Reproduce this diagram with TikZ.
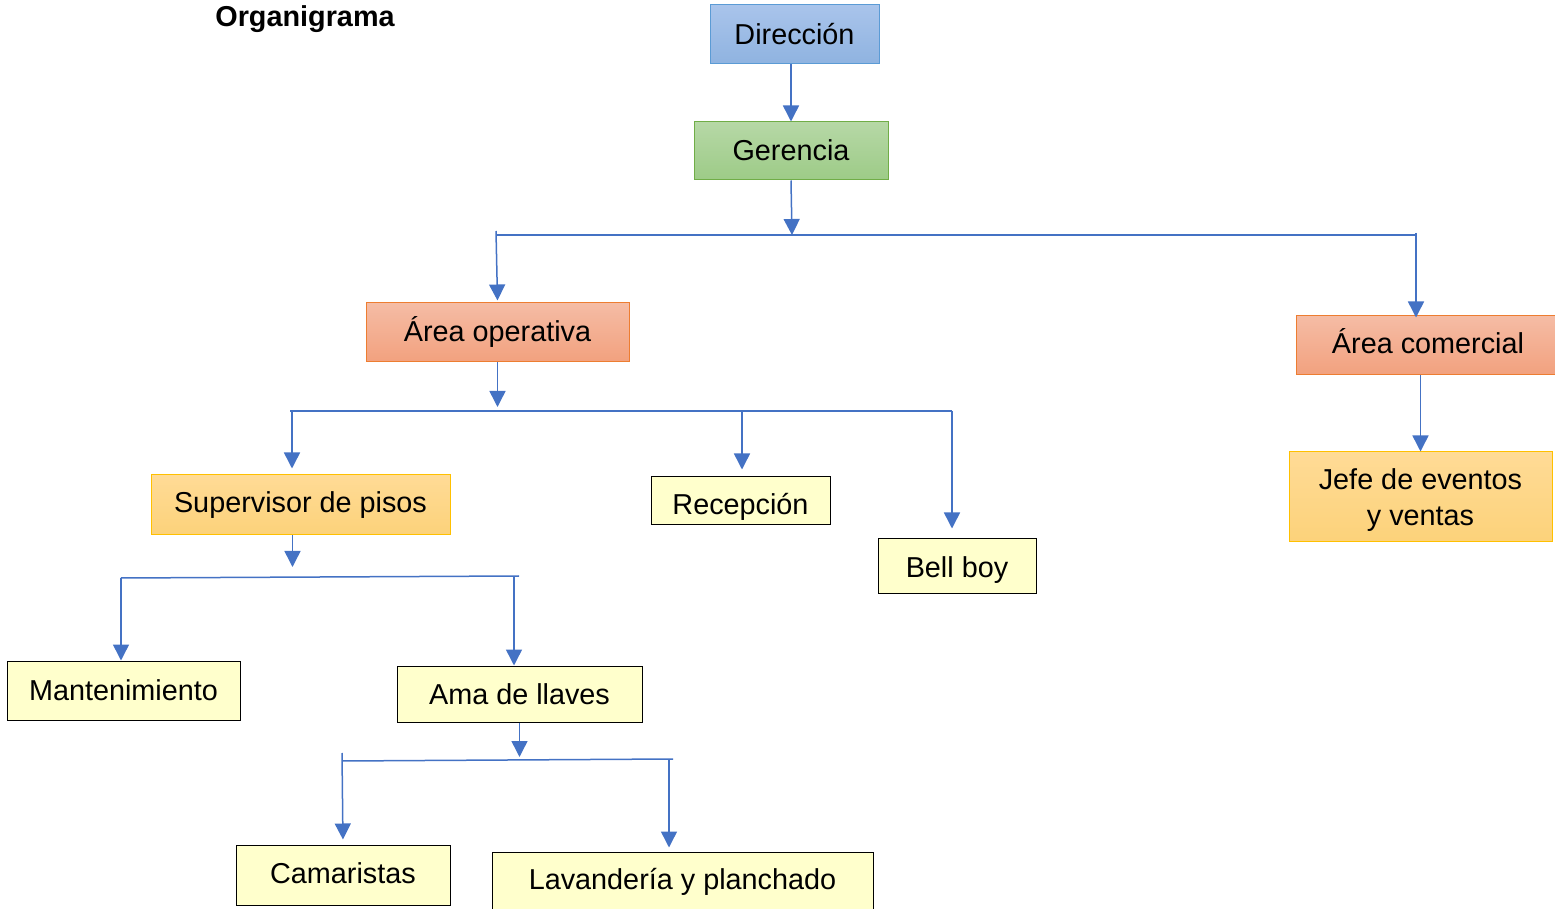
\documentclass[tikz,border=0pt]{standalone}
\usepackage{fontspec}
\setmainfont{Liberation Sans}
\usepackage{xcolor}
\usetikzlibrary{arrows.meta}
\definecolor{azul}{HTML}{4472C4}
\definecolor{amarillo}{HTML}{FFFFCC}
\definecolor{bordeazul}{HTML}{5B9BD5}
\definecolor{azularriba}{HTML}{A9C4EB}
\definecolor{azulabajo}{HTML}{8FB3E0}
\definecolor{bordeverde}{HTML}{70AD47}
\definecolor{verdearriba}{HTML}{B6D8A6}
\definecolor{verdeabajo}{HTML}{9DCB87}
\definecolor{bordenaranja}{HTML}{ED7D31}
\definecolor{naranjaarriba}{HTML}{F5BCA5}
\definecolor{naranjaabajo}{HTML}{F2A17E}
\definecolor{bordeoro}{HTML}{FFC000}
\definecolor{oroarriba}{HTML}{FFDB96}
\definecolor{oroabajo}{HTML}{FCD27A}

\tikzset{
caja/.style={draw,line width=0.5pt,inner sep=0pt,align=center,
  font=\fontsize{14.4}{18}\selectfont},
dirbox/.style={caja,draw=bordeazul,top color=azularriba,bottom color=azulabajo},
gerbox/.style={caja,draw=bordeverde,top color=verdearriba,bottom color=verdeabajo},
areabox/.style={caja,draw=bordenaranja,top color=naranjaarriba,bottom color=naranjaabajo},
orobox/.style={caja,draw=bordeoro,top color=oroarriba,bottom color=oroabajo},
puesto/.style={caja,fill=amarillo},
flecha/.style={azul,line width=0.75pt,-{Triangle[width=8pt,length=8pt]}},
linea/.style={azul,line width=0.75pt}
}
\newcommand{\bajar}[2]{\raisebox{#1}[\height][\depth]{#2}}

\begin{document}
\begin{tikzpicture}[x=0.5pt,y=-0.5pt]
\useasboundingbox (0,0) rectangle (1555,909);
\node[font=\fontsize{14.4}{18}\selectfont\bfseries] (tit) at (305,19) {Organigrama};
% cajas
\node[dirbox,minimum width=84.5pt,minimum height=29.5pt] (dir) at (794.5,34.5) {Dirección};
\node[gerbox,minimum width=97pt,minimum height=29pt] (ger) at (791,151) {\bajar{0.5pt}{Gerencia}};
\node[areabox,minimum width=131.5pt,minimum height=29.5pt] (aop) at (497.5,332.5) {Área operativa};
\node[areabox,minimum width=132pt,minimum height=29.5pt] (acom) at (1428,345.5) {\bajar{2pt}{Área comercial}};
\node[orobox,minimum width=131.5pt,minimum height=45pt] (jefe) at (1420.5,497) {\bajar{-1.5pt}{\begin{tabular}{@{}c@{}}Jefe de eventos\\y ventas\end{tabular}}};
\node[orobox,minimum width=149.5pt,minimum height=30pt] (sup) at (300.5,505) {Supervisor de pisos};
\node[puesto,minimum width=89.5pt,minimum height=24pt] (rec) at (740.5,501) {\bajar{-3pt}{Recepción}};
\node[puesto,minimum width=79pt,minimum height=27pt] (bell) at (957,566) {\bajar{-2pt}{Bell boy}};
\node[puesto,minimum width=116.5pt,minimum height=29.5pt] (mant) at (123.5,690.5) {Mantenimiento};
\node[puesto,minimum width=122.5pt,minimum height=28pt] (ama) at (519.5,694) {Ama de llaves};
\node[puesto,minimum width=107pt,minimum height=30pt] (cam) at (343,875) {\bajar{1pt}{Camaristas}};
\node[puesto,minimum width=190.5pt,minimum height=30pt] (lav) at (682.5,882) {Lavandería y planchado};
% lineas de reparto
\coordinate (b1a) at (496,235); \coordinate (b1m) at (792,235); \coordinate (b1b) at (1416,235);
\coordinate (b2a) at (290,411); \coordinate (b2m) at (742,411); \coordinate (b2b) at (952,411);
\coordinate (b3a) at (121,578); \coordinate (b3m) at (514,576); \coordinate (b3b) at (519,576);
\coordinate (b4a) at (342,761); \coordinate (b4m) at (669,759); \coordinate (b4b) at (673,759);
\draw[linea] (b1a) -- (b1b);
\draw[linea] (b2a) -- (b2b);
\draw[linea] (b3a) -- (b3b);
\draw[linea] (b4a) -- (b4b);
% flechas
\draw[flecha] (ger.north |- dir.south) -- (ger.north);
\draw[flecha] (ger.south) -- (b1m);
\draw[flecha] ([yshift=2pt]b1a) -- ([yshift=1pt]aop.north);
\draw[flecha] ([yshift=1pt]b1b) -- ([yshift=-1pt]b1b |- acom.north);
\draw[flecha] (jefe.north |- acom.south) -- (jefe.north);
\draw[flecha,shorten >=2pt] (aop.south) -- (aop.south |- b2m);
\draw[flecha,shorten >=3pt] ([xshift=1pt]b2a) -- ([xshift=1pt]b2a |- sup.north);
\draw[flecha,shorten >=3.5pt] (b2m) -- (b2m |- rec.north);
\draw[flecha,shorten >=5pt] (b2b) -- (b2b |- bell.north);
\draw[flecha,shorten >=4.5pt] ([xshift=-4pt]sup.south) -- ([xshift=-4pt]sup.south |- b3m);
\draw[flecha] (b3a) -- (b3a |- mant.north);
\draw[flecha] (b3m) -- (b3m |- ama.north);
\draw[flecha,shorten >=1pt] (ama.south) -- (ama.south |- b4m);
\draw[flecha,shorten >=2.5pt] ([yshift=4pt]b4a) -- (cam.north);
\draw[flecha,shorten >=2pt] (b4m) -- (b4m |- lav.north);
\end{tikzpicture}
\end{document}
